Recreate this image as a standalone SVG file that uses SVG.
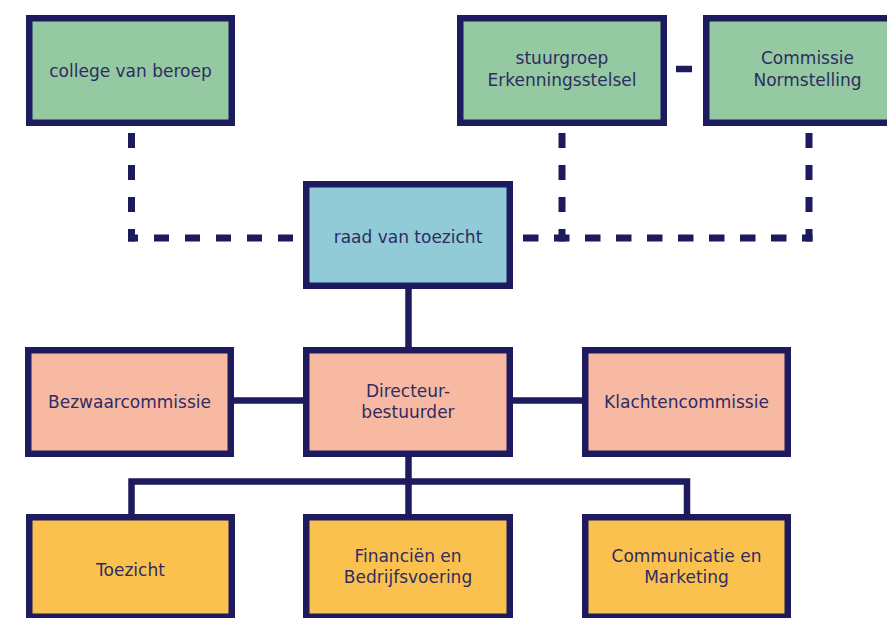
<svg xmlns="http://www.w3.org/2000/svg" width="887" height="618" viewBox="0 0 887 618">
<style>
  .box { stroke: #1d1a5e; stroke-width: 6.5; }
  .green { fill: #95c9a1; }
  .blue { fill: #90cbd7; }
  .salmon { fill: #f8b9a3; }
  .yellow { fill: #fac14f; }
  text { font-family: "DejaVu Sans", "Liberation Sans", sans-serif; font-size: 17px; fill: #2e2c62; text-anchor: middle; }
  .solid { fill: none; stroke: #1d1a5e; stroke-width: 6.5; stroke-linejoin: miter; }
  .dash { fill: none; stroke: #1d1a5e; stroke-width: 7; }
</style>
<rect width="887" height="618" fill="#ffffff"/>
<g id="connectors">
  <path class="dash" d="M131.5,133 V241.5" stroke-dasharray="15 17"/>
  <path class="dash" d="M293,238 H128" stroke-dasharray="15 16"/>
  <path class="dash" d="M562,133 V241.5" stroke-dasharray="15 17"/>
  <path class="dash" d="M809,133 V241.5" stroke-dasharray="15 17"/>
  <path class="dash" d="M523,238 H812.5" stroke-dasharray="15.5 15.5"/>
  <path class="solid" d="M676,69 H692" stroke-width="7"/>
  <path class="solid" d="M408.5,289 V347"/>
  <path class="solid" d="M408.5,457 V514"/>
  <path class="solid" d="M131.5,514 V481.5 H687 V514"/>
  <path class="solid" d="M234,400.5 H303"/>
  <path class="solid" d="M513,400.5 H582"/>
</g>
<g id="college-van-beroep">
  <rect class="box green" x="29.25" y="18.25" width="202.5" height="104.5"/>
  <text x="130.5" y="77">college van beroep</text>
</g>
<g id="stuurgroep">
  <rect class="box green" x="460.25" y="18.25" width="203.5" height="104.5"/>
  <text x="562" y="64">stuurgroep</text>
  <text x="562" y="86">Erkenningsstelsel</text>
</g>
<g id="commissie-normstelling">
  <rect class="box green" x="706.25" y="18.25" width="202.5" height="104.5"/>
  <text x="807.5" y="64">Commissie</text>
  <text x="807.5" y="86">Normstelling</text>
</g>
<g id="raad-van-toezicht">
  <rect class="box blue" x="306.25" y="184.25" width="203.5" height="101.5"/>
  <text x="408" y="243">raad van toezicht</text>
</g>
<g id="bezwaarcommissie">
  <rect class="box salmon" x="28.25" y="350.25" width="202.5" height="103.5"/>
  <text x="129.5" y="408">Bezwaarcommissie</text>
</g>
<g id="directeur-bestuurder">
  <rect class="box salmon" x="306.25" y="350.25" width="203.5" height="103.5"/>
  <text x="408" y="397">Directeur-</text>
  <text x="408" y="418">bestuurder</text>
</g>
<g id="klachtencommissie">
  <rect class="box salmon" x="585.25" y="350.25" width="202.5" height="103.5"/>
  <text x="686.5" y="408">Klachtencommissie</text>
</g>
<g id="toezicht">
  <rect class="box yellow" x="29.25" y="517.25" width="202.5" height="99.5"/>
  <text x="130.5" y="576">Toezicht</text>
</g>
<g id="financien">
  <rect class="box yellow" x="306.25" y="517.25" width="203.5" height="99.5"/>
  <text x="408" y="562">Financiën en</text>
  <text x="408" y="583">Bedrijfsvoering</text>
</g>
<g id="communicatie">
  <rect class="box yellow" x="585.25" y="517.25" width="202.5" height="99.5"/>
  <text x="686.5" y="562">Communicatie en</text>
  <text x="686.5" y="583">Marketing</text>
</g>
</svg>
